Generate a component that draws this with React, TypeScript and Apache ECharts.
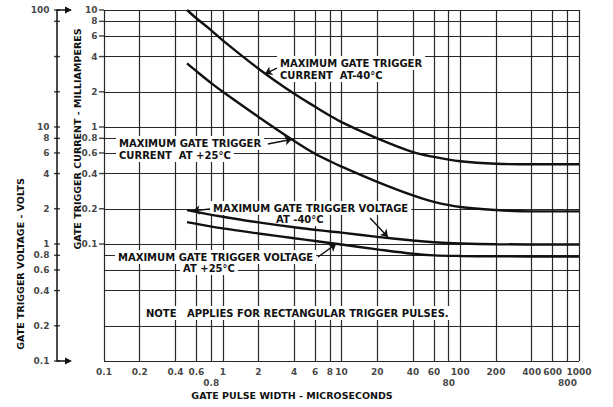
import { useEffect, useRef } from "react";
import * as echarts from "echarts";

// ---- grid / tick values ----
const xGridValues = [0.1, 0.2, 0.4, 0.6, 0.8, 1, 2, 4, 6, 8, 10, 20, 40, 60, 80, 100, 200, 400, 600, 800, 1000];
const yGridValues = [0.01, 0.02, 0.04, 0.06, 0.08, 0.1, 0.2, 0.4, 0.6, 0.8, 1, 2, 4, 6, 8, 10];

const xTickValues = [0.1, 0.2, 0.4, 0.6, 1, 2, 4, 6, 8, 10, 20, 40, 60, 100, 200, 400, 600, 1000];
const xTickLabels = ["0.1", "0.2", "0.4", "0.6", "1", "2", "4", "6", "8", "10", "20", "40", "60", "100", "200", "400", "600", "1000"];
const xTickValuesLow = [0.8, 80, 800];
const xTickLabelsLow = ["0.8", "80", "800"];

const currentTickValues = [10, 8, 6, 4, 2, 1, 0.8, 0.6, 0.4, 0.2, 0.1];
const currentTickLabels = ["10", "8", "6", "4", "2", "1", "0.8", "0.6", "0.4", "0.2", "0.1"];

const voltageTickValues = [100, 10, 8, 6, 4, 2, 1, 0.8, 0.6, 0.4, 0.2, 0.1];
const voltageTickLabels = ["100", "10", "8", "6", "4", "2", "1", "0.8", "0.6", "0.4", "0.2", "0.1"];
const voltageMinorTicks = [80, 40, 20];

// ---- curves: [pulse width µs, value] ----
const currentM40 = [[0.5, 10], [0.6, 8.5], [0.8, 6.7], [1, 5.5], [2, 3.15], [4, 1.92], [6, 1.49], [8, 1.25], [10, 1.1], [20, 0.8], [40, 0.61], [60, 0.555], [100, 0.51], [200, 0.485], [400, 0.48], [1000, 0.48]];
const currentP25 = [[0.5, 3.5], [0.6, 3.0], [0.8, 2.37], [1, 2.0], [2, 1.22], [4, 0.76], [6, 0.59], [8, 0.51], [10, 0.459], [20, 0.34], [40, 0.26], [60, 0.229], [100, 0.207], [200, 0.195], [400, 0.19], [1000, 0.19]];
const voltageM40 = [[0.5, 1.95], [1, 1.71], [2, 1.53], [4, 1.39], [8, 1.28], [10, 1.25], [20, 1.15], [40, 1.07], [60, 1.035], [100, 1.01], [200, 0.995], [1000, 0.99]];
const voltageP25 = [[0.5, 1.54], [1, 1.36], [2, 1.23], [4, 1.12], [6, 1.06], [8, 1.02], [10, 0.99], [20, 0.9], [40, 0.825], [60, 0.8], [100, 0.79], [200, 0.785], [1000, 0.78]];

// ---- annotation arrows [from, to] in data space ----
const arrowCurrentM40 = [[2.86, 3.19], [2.27, 2.85]];
const arrowCurrentP25 = [[2.4, 0.716], [3.83, 0.785]];
const arrowVoltageM40 = [[17.4, 1.667], [24.6, 1.15]];
const arrowVoltageM40Start = [[0.78, 1.99], [0.56, 1.92]];
const arrowVoltageP25 = [[6.34, 0.774], [8.99, 1.0]];

const INK = "#111";
const FONT = "'DejaVu Sans', sans-serif";

function labelSeries(data: number[][], labels: string[], yAxisIndex: number, label: any) {
  return {
    type: "scatter",
    yAxisIndex,
    data,
    symbol: "circle",
    symbolSize: 1,
    itemStyle: { color: "transparent" },
    clip: false,
    silent: true,
    z: 40,
    label: {
      show: true,
      color: INK,
      fontFamily: FONT,
      fontWeight: "bold",
      fontSize: 9,
      formatter: (p: any) => labels[p.dataIndex],
      ...label,
    },
  };
}

function tickSeries(data: number[][], yAxisIndex: number, size: number[], offset: number[]) {
  return {
    type: "scatter",
    yAxisIndex,
    data,
    symbol: "rect",
    symbolSize: size,
    symbolOffset: offset,
    itemStyle: { color: INK },
    clip: false,
    silent: true,
    z: 40,
  };
}

function arrowLine(a: number[][]) {
  return {
    silent: true,
    symbol: ["none", "arrow"],
    symbolSize: 7,
    label: { show: false },
    lineStyle: { color: INK, width: 1.4, type: "solid" },
    emphasis: { disabled: true },
    data: [[{ coord: a[0] }, { coord: a[1] }]],
  };
}

function curve(data: number[][], yAxisIndex: number, markLine: any) {
  return {
    type: "line",
    yAxisIndex,
    data,
    smooth: 0.35,
    showSymbol: false,
    silent: true,
    z: 30,
    lineStyle: { color: INK, width: 2.4 },
    markLine,
  };
}

function annText(text: string, x: number, y: number) {
  return {
    type: "text",
    z: 20,
    x,
    y,
    style: {
      text,
      font: `bold 10px ${FONT}`,
      fill: INK,
      align: "left",
      verticalAlign: "middle",
      backgroundColor: "#fff",
      padding: [2, 3],
    },
  };
}

function titleText(text: string, x: number, y: number, rotated: boolean) {
  return {
    type: "text",
    z: 20,
    x,
    y,
    rotation: rotated ? Math.PI / 2 : 0,
    style: {
      text,
      font: `bold 9.5px ${FONT}`,
      fill: INK,
      align: "center",
      verticalAlign: "middle",
    },
  };
}

const hiddenAxis = {
  axisLine: { show: false },
  axisTick: { show: false },
  axisLabel: { show: false },
  splitLine: { show: false },
};

const option: any = {
  animation: false,
  backgroundColor: "#fff",
  grid: { left: 104, right: 34, top: 10, bottom: 46 },
  xAxis: { type: "log", logBase: 10, min: 0.1, max: 1000, ...hiddenAxis },
  yAxis: [
    { type: "log", logBase: 10, min: 0.01, max: 10, ...hiddenAxis },
    {
      type: "log",
      logBase: 10,
      min: 0.1,
      max: 100,
      position: "left",
      offset: 47,
      axisLine: { show: true, onZero: false, lineStyle: { color: INK, width: 1.5 } },
      axisTick: { show: false },
      axisLabel: { show: false },
      splitLine: { show: false },
    },
  ],
  series: [
    {
      type: "line",
      data: [[0.1, 0.01]],
      showSymbol: false,
      silent: true,
      lineStyle: { width: 0 },
      z: 2,
      markLine: {
        silent: true,
        symbol: ["none", "none"],
        label: { show: false },
        emphasis: { disabled: true },
        lineStyle: { color: INK, width: 1.2, type: "solid", opacity: 0.9 },
        data: [
          ...xGridValues.map((v) => ({ xAxis: v })),
          ...yGridValues.map((v) => ({ yAxis: v })),
        ],
      },
    },
    curve(currentM40, 0, arrowLine(arrowCurrentM40)),
    curve(currentP25, 0, arrowLine(arrowCurrentP25)),
    curve(voltageM40, 1, {
      ...arrowLine(arrowVoltageM40),
      data: [
        [{ coord: arrowVoltageM40[0] }, { coord: arrowVoltageM40[1] }],
        [{ coord: arrowVoltageM40Start[0] }, { coord: arrowVoltageM40Start[1] }],
      ],
    }),
    curve(voltageP25, 1, arrowLine(arrowVoltageP25)),
    labelSeries(xTickValues.map((v) => [v, 0.01]), xTickLabels, 0, { position: "bottom", distance: 6 }),
    labelSeries(xTickValuesLow.map((v) => [v, 0.01]), xTickLabelsLow, 0, { position: "bottom", distance: 17 }),
    labelSeries(currentTickValues.map((v) => [0.1, v]), currentTickLabels, 0, { position: "left", distance: 6 }),
    tickSeries(currentTickValues.map((v) => [0.1, v]), 0, [5, 1.4], [-2.5, 0]),
    labelSeries(voltageTickValues.map((v) => [0.1, v]), voltageTickLabels, 1, { position: "left", distance: 5, offset: [-49, 0] }),
    tickSeries([...voltageTickValues, ...voltageMinorTicks].map((v) => [0.1, v]), 1, [6, 1.4], [-47, 0]),
  ],
  graphic: [
    annText("MAXIMUM GATE TRIGGER", 277, 63),
    annText("CURRENT  AT-40°C", 277, 75),
    annText("MAXIMUM GATE TRIGGER", 116, 143),
    annText("CURRENT  AT +25°C", 116, 155),
    annText("MAXIMUM GATE TRIGGER VOLTAGE", 210, 208),
    annText("AT -40°C", 273, 219),
    annText("MAXIMUM GATE TRIGGER VOLTAGE", 115, 257),
    annText("AT +25°C", 180, 268),
    annText("NOTE   APPLIES FOR RECTANGULAR TRIGGER PULSES.", 143, 313),
    titleText("GATE TRIGGER VOLTAGE - VOLTS", 20, 264, true),
    titleText("GATE TRIGGER CURRENT - MILLIAMPERES", 77, 139, true),
    titleText("GATE PULSE WIDTH - MICROSECONDS", 292, 395, false),
    { type: "polyline", z: 20, shape: { points: [[57, 10], [66, 10]] }, style: { stroke: INK, lineWidth: 1.5, fill: null } },
    { type: "polygon", z: 20, shape: { points: [[72, 10], [65, 6.5], [65, 13.5]] }, style: { fill: INK } },
    { type: "polyline", z: 20, shape: { points: [[57, 361], [66, 361]] }, style: { stroke: INK, lineWidth: 1.5, fill: null } },
    { type: "polygon", z: 20, shape: { points: [[72, 361], [65, 357.5], [65, 364.5]] }, style: { fill: INK } },
  ],
};

export default function App() {
  const ref = useRef<HTMLDivElement>(null);
  useEffect(() => {
    const chart = echarts.init(ref.current!, null, { renderer: "svg" });
    chart.setOption(option);
    return () => chart.dispose();
  }, []);
  return (
    <div
      ref={ref}
      style={{ position: "absolute", left: 0, top: 0, width: 613, height: 407, background: "#fff" }}
    />
  );
}
